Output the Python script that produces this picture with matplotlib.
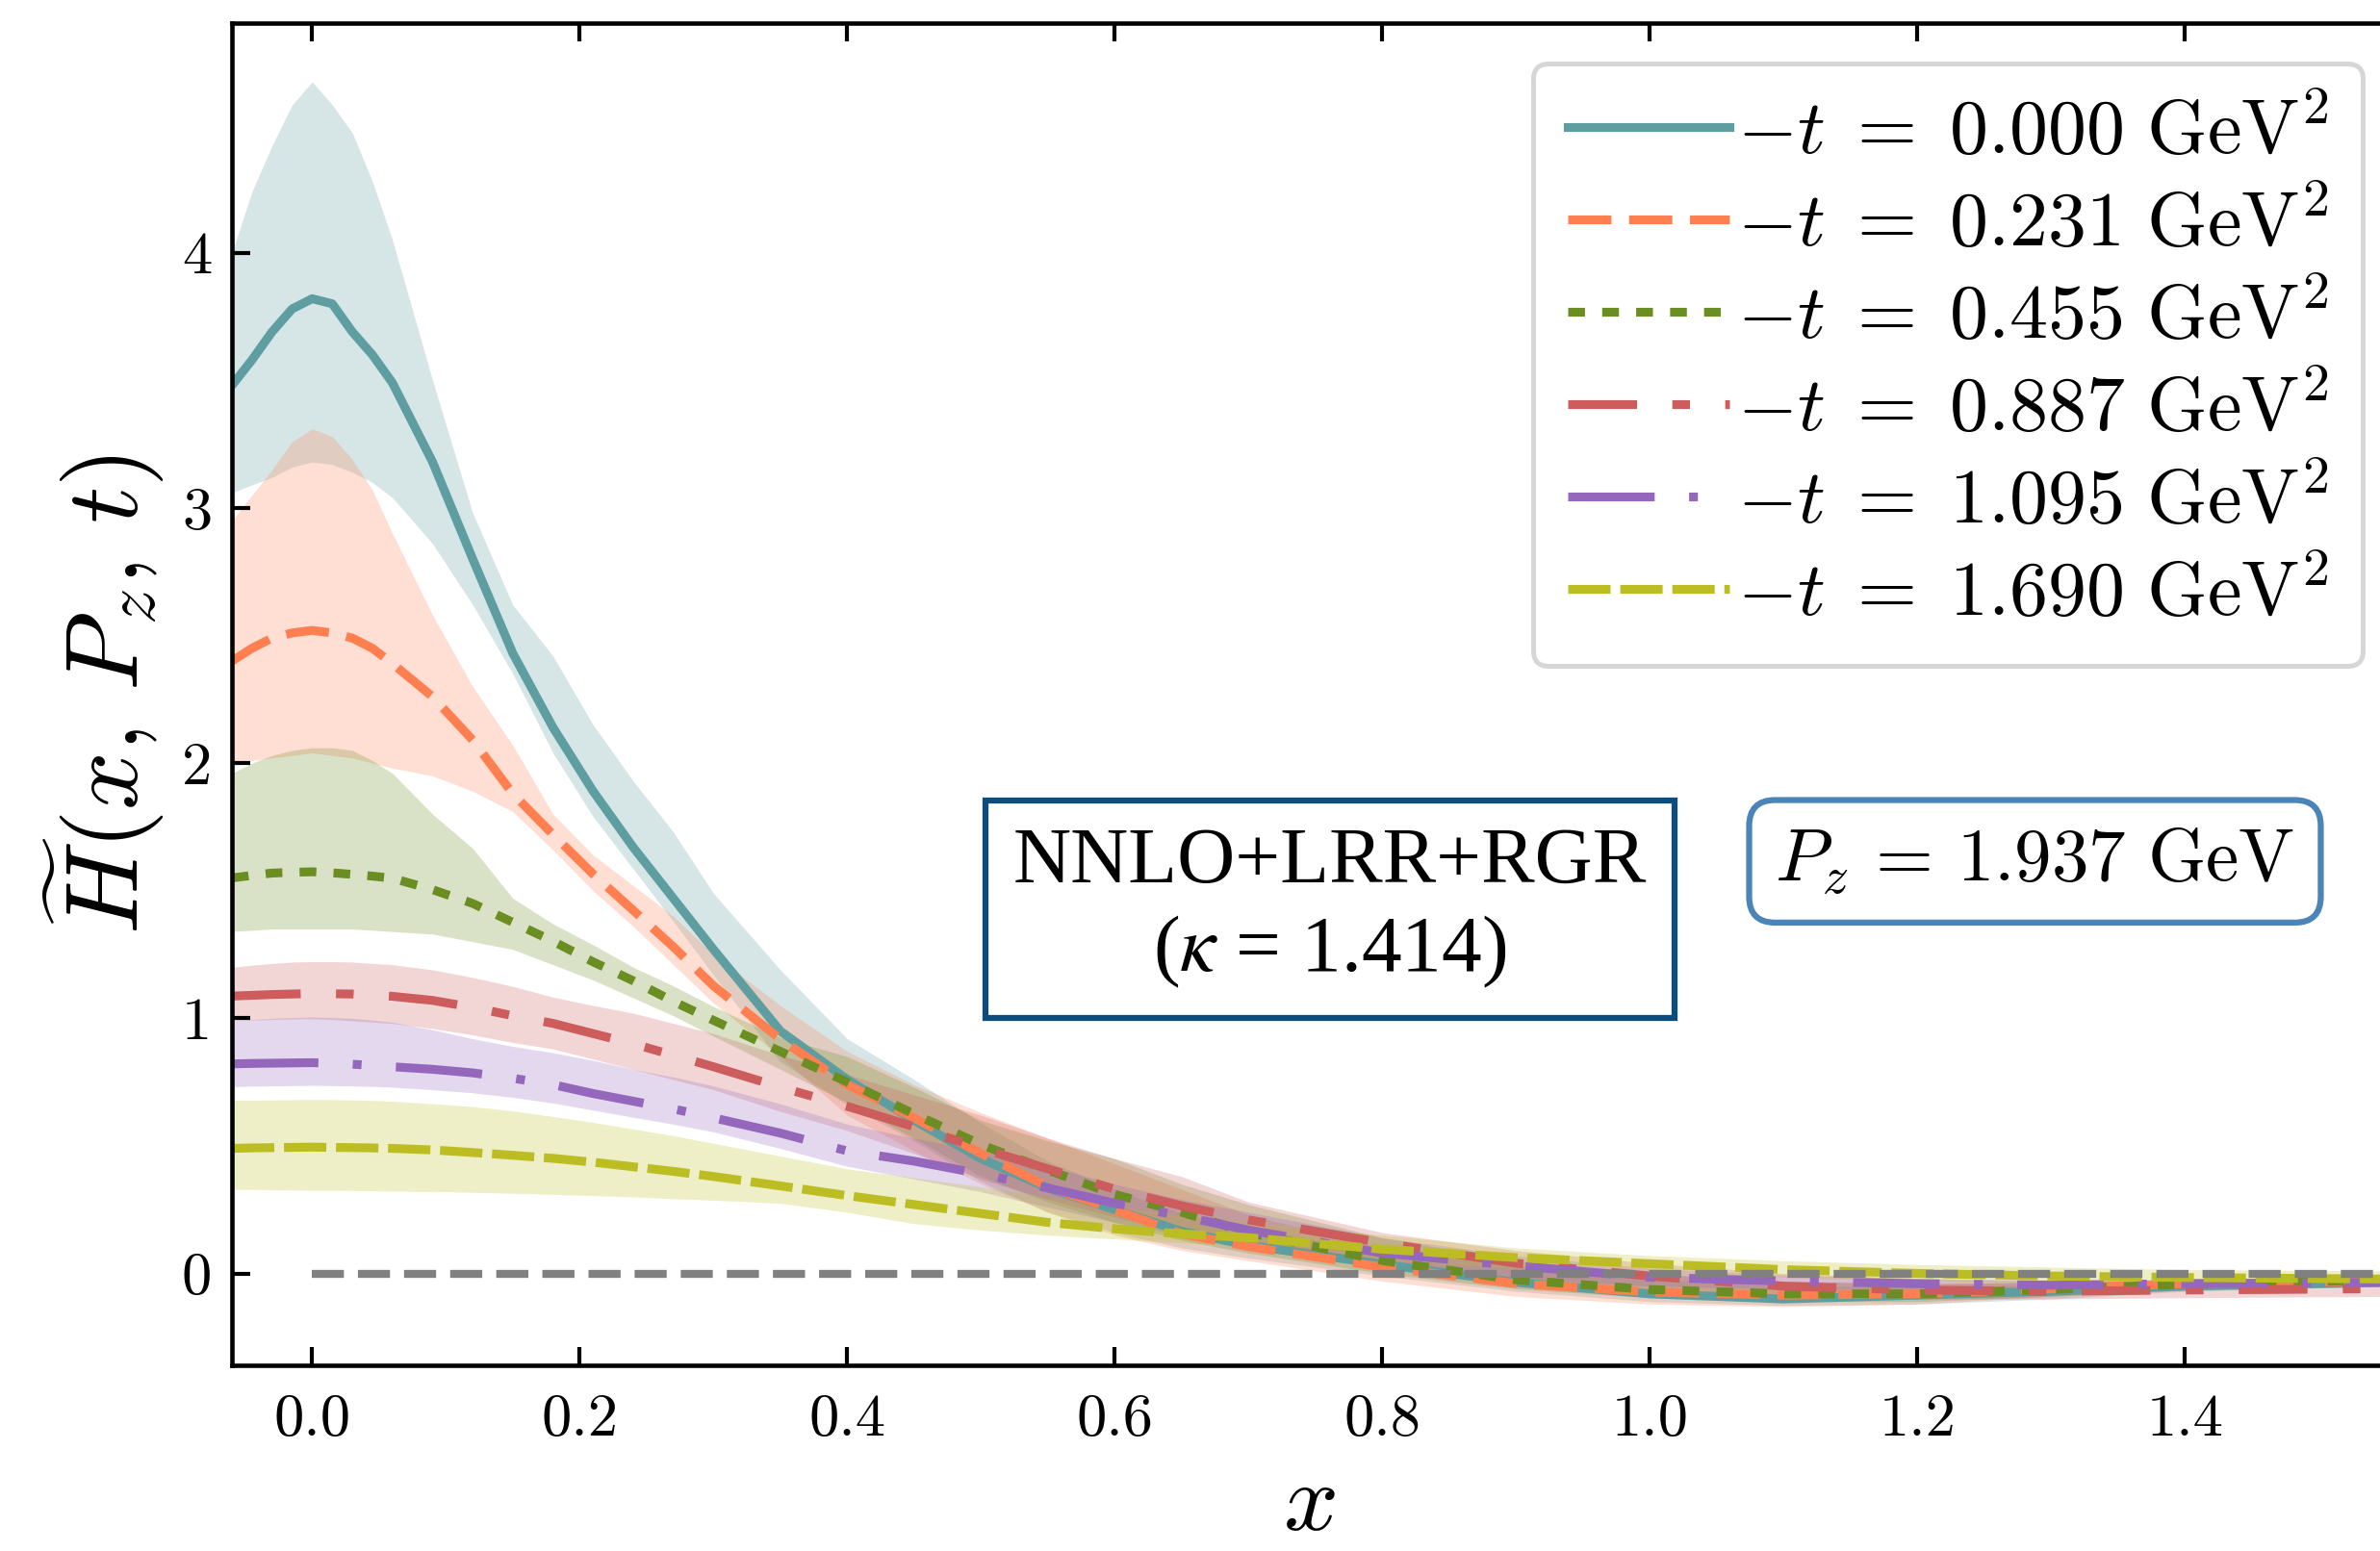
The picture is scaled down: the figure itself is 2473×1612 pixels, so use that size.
import matplotlib
matplotlib.use('Agg')
import matplotlib.pyplot as plt
from matplotlib.ticker import FormatStrFormatter
import numpy as np

plt.rcParams['font.family'] = 'serif'
plt.rcParams['font.serif'] = ['cmr10']
plt.rcParams['mathtext.fontset'] = 'cm'
plt.rcParams['axes.formatter.use_mathtext'] = True

# momentum fraction grid
x = [-0.06, -0.045, -0.03, -0.015, 0.0, 0.015, 0.03, 0.045, 0.06, 0.09, 0.12, 0.15, 0.18, 0.21, 0.24,
     0.27, 0.30, 0.35, 0.40, 0.45, 0.50, 0.55, 0.60, 0.65, 0.70, 0.80, 0.90, 1.00, 1.10, 1.20, 1.30,
     1.40, 1.55]

t_values = ['0.000', '0.231', '0.455', '0.887', '1.095', '1.690']

# central values and error band edges, one set per -t
h_t0 = [3.48, 3.58, 3.69, 3.78, 3.82, 3.80, 3.69, 3.60, 3.49, 3.18, 2.80, 2.43, 2.14, 1.89, 1.67,
        1.47, 1.27, 0.95, 0.76, 0.60, 0.45, 0.335, 0.25, 0.165, 0.11, 0.036, -0.035, -0.08, -0.10, -0.085, -0.07,
        -0.05, -0.035]
hi_t0 = [4.00, 4.24, 4.42, 4.58, 4.67, 4.58, 4.47, 4.28, 4.05, 3.50, 2.98, 2.62, 2.42, 2.15, 1.93,
         1.73, 1.49, 1.19, 0.92, 0.76, 0.59, 0.44, 0.33, 0.235, 0.175, 0.09, 0.03, -0.02, -0.05, -0.05, -0.045,
         -0.035, -0.025]
lo_t0 = [3.06, 3.09, 3.12, 3.16, 3.18, 3.17, 3.14, 3.10, 3.04, 2.86, 2.62, 2.35, 2.04, 1.79, 1.585,
         1.38, 1.17, 0.83, 0.66, 0.52, 0.36, 0.24, 0.16, 0.10, 0.06, -0.01, -0.07, -0.11, -0.125, -0.12, -0.10,
         -0.07, -0.05]

h_t1 = [2.40, 2.45, 2.49, 2.51, 2.52, 2.51, 2.49, 2.45, 2.39, 2.26, 2.09, 1.88, 1.72, 1.565, 1.423,
        1.28, 1.127, 0.918, 0.74, 0.61, 0.47, 0.34, 0.25, 0.155, 0.105, 0.025, -0.04, -0.073, -0.085, -0.08, -0.06,
        -0.04, -0.03]
hi_t1 = [2.95, 3.05, 3.15, 3.26, 3.31, 3.28, 3.19, 3.07, 2.90, 2.58, 2.30, 2.07, 1.80, 1.64, 1.52,
         1.40, 1.25, 1.05, 0.87, 0.74, 0.63, 0.53, 0.43, 0.33, 0.23, 0.10, 0.04, 0.0, -0.03, -0.04, -0.035,
         -0.025, -0.015]
lo_t1 = [2.00, 2.01, 2.02, 2.03, 2.04, 2.03, 2.02, 2.00, 1.98, 1.95, 1.89, 1.81, 1.66, 1.50, 1.36,
         1.21, 1.06, 0.85, 0.62, 0.48, 0.35, 0.24, 0.15, 0.09, 0.05, -0.03, -0.09, -0.12, -0.13, -0.12, -0.09,
         -0.06, -0.045]

h_t2 = [1.55, 1.56, 1.569, 1.572, 1.574, 1.57, 1.564, 1.557, 1.549, 1.504, 1.45, 1.376, 1.302, 1.221, 1.147,
        1.066, 0.992, 0.87, 0.75, 0.625, 0.505, 0.405, 0.31, 0.24, 0.16, 0.05, -0.025, -0.063, -0.08, -0.08, -0.063,
        -0.042, -0.025]
hi_t2 = [1.96, 2.00, 2.03, 2.05, 2.06, 2.06, 2.05, 2.01, 1.96, 1.80, 1.666, 1.47, 1.37, 1.288, 1.20,
         1.127, 1.046, 0.925, 0.85, 0.73, 0.60, 0.52, 0.45, 0.35, 0.27, 0.14, 0.05, 0.0, -0.03, -0.04, -0.035,
         -0.025, -0.015]
lo_t2 = [1.34, 1.345, 1.35, 1.35, 1.35, 1.35, 1.35, 1.345, 1.34, 1.33, 1.30, 1.27, 1.21, 1.15, 1.08,
         1.01, 0.93, 0.80, 0.67, 0.53, 0.38, 0.28, 0.20, 0.13, 0.08, 0.0, -0.06, -0.095, -0.11, -0.11, -0.09,
         -0.065, -0.04]

h_t3 = [1.087, 1.09, 1.093, 1.095, 1.097, 1.096, 1.095, 1.091, 1.086, 1.07, 1.043, 1.01, 0.98, 0.94, 0.90,
        0.855, 0.81, 0.73, 0.655, 0.575, 0.49, 0.41, 0.33, 0.265, 0.21, 0.12, 0.04, -0.01, -0.05, -0.065, -0.07,
        -0.065, -0.06]
hi_t3 = [1.20, 1.208, 1.215, 1.22, 1.222, 1.222, 1.22, 1.215, 1.21, 1.19, 1.16, 1.125, 1.083, 1.05, 1.02,
         0.98, 0.94, 0.855, 0.78, 0.70, 0.62, 0.53, 0.45, 0.38, 0.28, 0.16, 0.09, 0.04, 0.0, -0.02, -0.03,
         -0.03, -0.03]
lo_t3 = [0.99, 0.993, 0.995, 0.997, 0.998, 0.995, 0.99, 0.985, 0.98, 0.96, 0.935, 0.905, 0.88, 0.84, 0.80,
         0.76, 0.72, 0.635, 0.56, 0.47, 0.37, 0.29, 0.22, 0.16, 0.11, 0.04, -0.03, -0.07, -0.09, -0.10, -0.10,
         -0.095, -0.09]

h_t4 = [0.821, 0.823, 0.824, 0.825, 0.826, 0.823, 0.82, 0.815, 0.81, 0.80, 0.786, 0.765, 0.74, 0.705, 0.675,
        0.645, 0.61, 0.55, 0.48, 0.44, 0.39, 0.335, 0.275, 0.225, 0.17, 0.08, 0.03, -0.015, -0.03, -0.04, -0.046,
        -0.04, -0.035]
hi_t4 = [0.99, 0.995, 1.0, 1.003, 1.005, 1.003, 1.0, 0.993, 0.985, 0.955, 0.92, 0.89, 0.865, 0.835, 0.80,
         0.77, 0.735, 0.665, 0.585, 0.53, 0.48, 0.42, 0.35, 0.29, 0.24, 0.14, 0.07, 0.02, -0.005, -0.02, -0.025,
         -0.025, -0.02]
lo_t4 = [0.732, 0.734, 0.735, 0.736, 0.737, 0.736, 0.735, 0.733, 0.73, 0.72, 0.708, 0.69, 0.668, 0.64, 0.612,
         0.585, 0.555, 0.49, 0.42, 0.37, 0.32, 0.26, 0.20, 0.15, 0.11, 0.03, -0.02, -0.05, -0.06, -0.065, -0.065,
         -0.06, -0.05]

h_t5 = [0.49, 0.492, 0.493, 0.494, 0.495, 0.494, 0.493, 0.492, 0.49, 0.484, 0.474, 0.463, 0.451, 0.436, 0.418,
        0.40, 0.38, 0.343, 0.305, 0.27, 0.235, 0.20, 0.175, 0.155, 0.14, 0.095, 0.062, 0.038, 0.015, 0.0, -0.01,
        -0.016, -0.022]
hi_t5 = [0.678, 0.679, 0.68, 0.681, 0.682, 0.681, 0.68, 0.678, 0.675, 0.665, 0.654, 0.637, 0.615, 0.592, 0.566,
         0.54, 0.51, 0.46, 0.41, 0.375, 0.34, 0.30, 0.26, 0.23, 0.20, 0.15, 0.10, 0.07, 0.05, 0.035, 0.025,
         0.015, 0.01]
lo_t5 = [0.33, 0.329, 0.328, 0.327, 0.326, 0.326, 0.325, 0.324, 0.323, 0.321, 0.318, 0.314, 0.31, 0.305, 0.30,
         0.293, 0.287, 0.275, 0.24, 0.195, 0.17, 0.15, 0.135, 0.12, 0.105, 0.05, 0.02, 0.0, -0.015, -0.03, -0.04,
         -0.045, -0.05]

centers = [h_t0, h_t1, h_t2, h_t3, h_t4, h_t5]
uppers = [hi_t0, hi_t1, hi_t2, hi_t3, hi_t4, hi_t5]
lowers = [lo_t0, lo_t1, lo_t2, lo_t3, lo_t4, lo_t5]

colors = ['#5f9ea0', '#ff7f50', '#6b8e23', '#cd5c5c', '#9467bd', '#bcbd22']
dash_styles = [None, (4.9, 2.0), (1.9, 1.95), (7.8, 4.0, 2.0, 4.0), (9.8, 3.9, 1.0, 3.9), (4.8, 1.1)]

W, H = 2473, 1612
fig = plt.figure(figsize=(W / 300, H / 300), dpi=300)
ax = fig.add_axes([241 / W, 193 / H, 2239 / W, 1395 / H])

for i in range(len(t_values)):
    ax.fill_between(x, lowers[i], uppers[i], color=colors[i], alpha=0.25, lw=0)
    label = r'$-t\;=\;%s\ \mathrm{GeV}^2$' % t_values[i]
    if dash_styles[i] is None:
        ax.plot(x, centers[i], color=colors[i], lw=2.2, ls='-', label=label)
    else:
        ax.plot(x, centers[i], color=colors[i], lw=2.2, dashes=dash_styles[i], label=label)

# zero reference line
ax.hlines(0, 0, x[-1], colors='gray', lw=2.0, linestyles=(0, (4.0, 1.75)), zorder=3)

ax.set_xlim(-0.06, 1.551)
ax.set_ylim(-0.36, 4.9)
ax.set_xticks(np.arange(0, 1.41, 0.2))
ax.set_yticks([0, 1, 2, 3, 4])
ax.xaxis.set_major_formatter(FormatStrFormatter('%.1f'))
ax.yaxis.set_major_formatter(FormatStrFormatter('%d'))
ax.tick_params(direction='in', top=True, right=False, length=4.5, width=1.0, labelsize=15)
ax.tick_params(axis='x', pad=7)
ax.tick_params(axis='y', pad=5)
for s in ax.spines.values():
    s.set_linewidth(1.1)

ax.set_xlabel(r'$x$', fontsize=24, labelpad=4)
ax.set_ylabel(r'$\widetilde{H}(x,\, P_z,\, t)$', fontsize=25.5, labelpad=4)

leg = ax.legend(loc='upper right', bbox_to_anchor=(2455 / W, 1 - 66 / H), bbox_transform=fig.transFigure,
                borderaxespad=0, fontsize=19.2, handlelength=2.1, handletextpad=0.1, labelspacing=0.27,
                borderpad=0.45, fancybox=True, edgecolor='0.8')
leg.get_frame().set_linewidth(1.2)

ax.text(0.761, 1.43, 'NNLO+LRR+RGR\n(' + r'$\kappa$' + ' = 1.414)', ha='center', va='center',
        fontsize=20, family='Liberation Serif', math_fontfamily='stix', linespacing=1.25,
        bbox=dict(boxstyle='square,pad=0.35', fc='white', ec='#0d4d7d', lw=1.5))
ax.text(1.288, 1.615, r'$P_z\,=\,1.937\ \mathrm{GeV}$', ha='center', va='center', fontsize=18.5,
        bbox=dict(boxstyle='round,pad=0.35', fc='white', ec='#4a84b8', lw=1.5))

fig.savefig('out.png', dpi=300)
